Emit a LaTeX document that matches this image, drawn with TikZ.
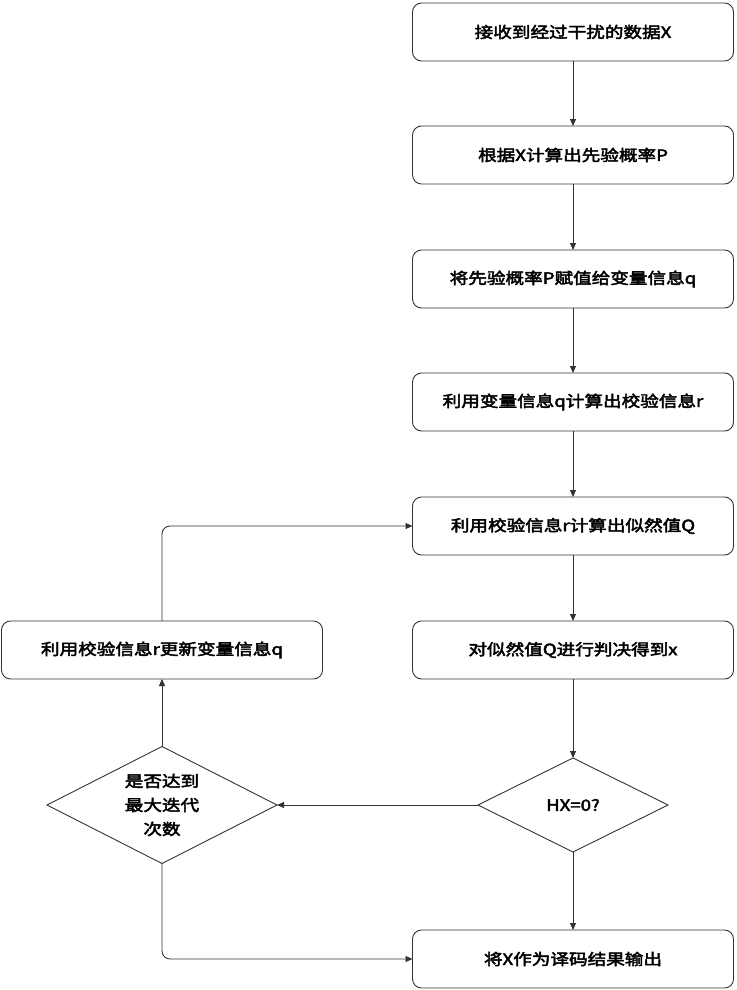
\documentclass[tikz,border=0pt]{standalone}
\usepackage{fontspec}
\newfontfamily\cjk[FakeStretch=1.2,FakeBold=3]{Noto Sans CJK SC}
\usetikzlibrary{shapes.geometric,arrows.meta}
\begin{document}
\begin{tikzpicture}[x=1pt,y=-1pt,
  line/.style={draw=black!80,line width=0.9pt},
  arr/.style={line,-{Triangle[length=7pt,width=6pt]}},
  box/.style={line,rounded corners=9pt,minimum width=321pt,minimum height=58pt,inner sep=0pt,outer sep=0pt,font=\cjk\fontsize{15.5}{24}\selectfont,fill=white},
  dia/.style={line,diamond,aspect=2,inner sep=0pt,outer sep=0pt,font=\cjk\fontsize{15.5}{24}\selectfont,align=center}]
\fill[white] (0,0) rectangle (736,990);
\useasboundingbox (0,0) rectangle (736,990);
\node[box] (b1) at (573,32) {接收到经过干扰的数据X};
\node[box] (b2) at (573,155) {根据X计算出先验概率P};
\node[box] (b3) at (573,279) {将先验概率P赋值给变量信息q};
\node[box] (b4) at (573,402) {利用变量信息q计算出校验信息r};
\node[box] (b5) at (573,526) {利用校验信息r计算出似然值Q};
\node[box] (b6) at (573,650) {对似然值Q进行判决得到x};
\node[dia,minimum width=190pt,minimum height=94pt] (d1) at (573,805) {HX=0?};
\node[box] (b7) at (573,959) {将X作为译码结果输出};
\node[box] (bl) at (162,650) {利用校验信息r更新变量信息q};
\node[dia,minimum width=230pt,minimum height=117pt] (d2) at (162,805) {是否达到\\最大迭代\\次数};
\draw[arr] (b1) -- (b2);
\draw[arr] (b2) -- (b3);
\draw[arr] (b3) -- (b4);
\draw[arr] (b4) -- (b5);
\draw[arr] (b5) -- (b6);
\draw[arr] (b6) -- (d1);
\draw[arr] (d1) -- (b7);
\draw[arr] (d1.west) -- (d2.east);
\draw[arr] (d2) -- (bl);
\draw[arr,rounded corners=8pt] (d2.south) |- (b7.west);
\draw[arr,rounded corners=8pt] (bl.north) |- (b5.west);
\end{tikzpicture}
\end{document}
